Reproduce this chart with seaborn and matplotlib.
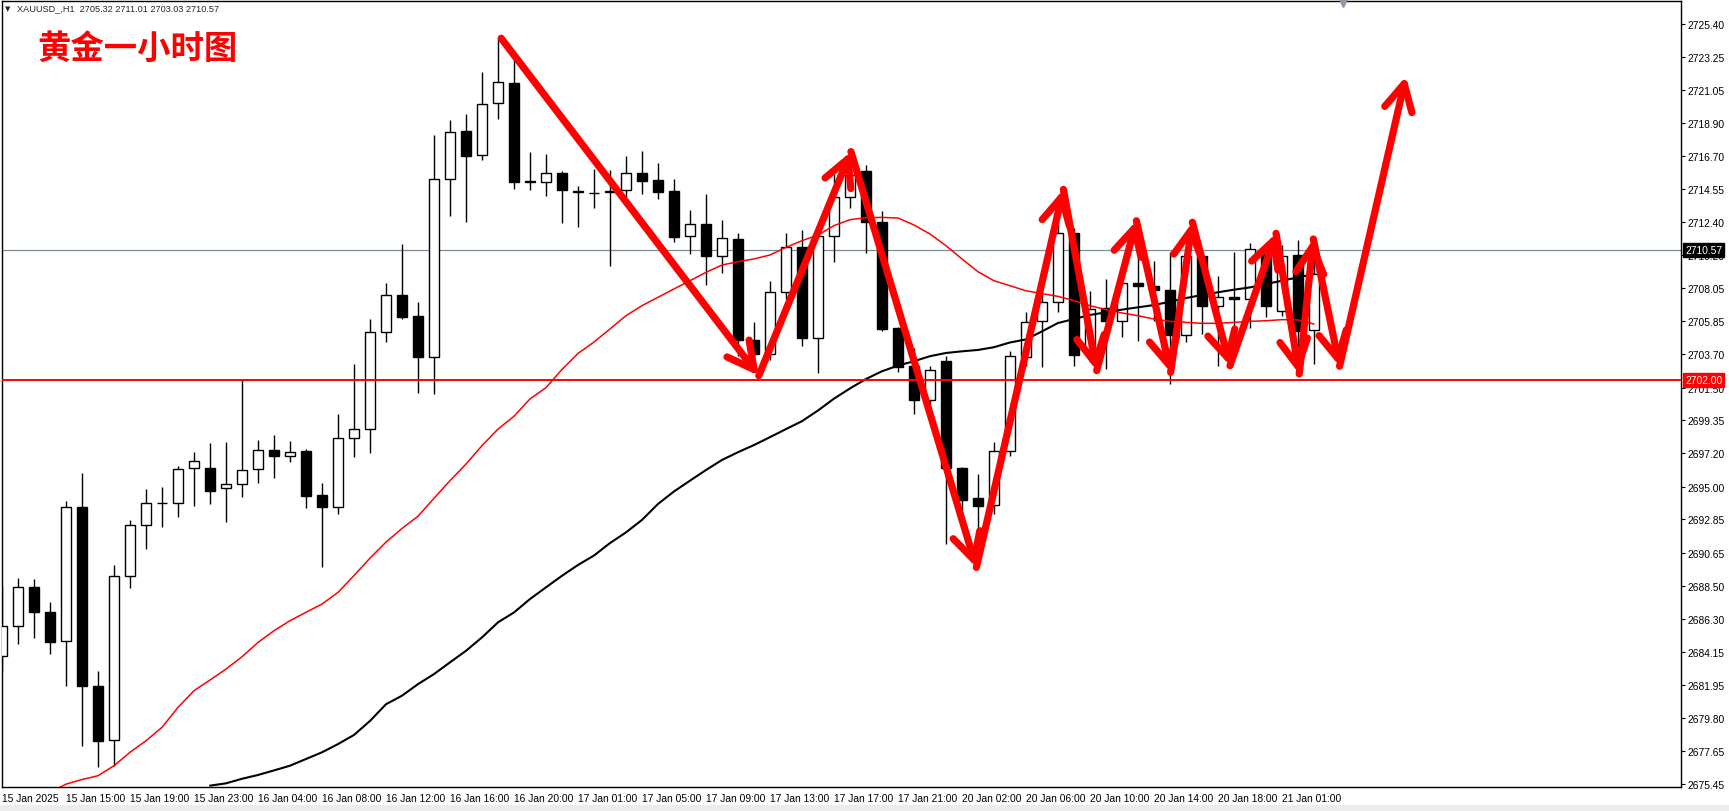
import numpy as np
import matplotlib
matplotlib.use('Agg')
import matplotlib.pyplot as plt
import matplotlib.transforms as mtransforms
from matplotlib.patches import Rectangle
import seaborn as sns

# Hourly XAUUSD candles, one per bar
opens = [2683.87, 2685.82, 2688.38, 2686.74, 2684.83, 2693.64, 2681.87, 2678.35, 2689.10, 2692.48,
         2693.90, 2693.90, 2696.20, 2696.20, 2694.88, 2695.15, 2696.13, 2697.40, 2696.99, 2697.34,
         2694.45, 2693.64, 2698.17, 2698.78, 2705.14, 2707.59, 2706.19, 2703.50, 2715.19, 2718.35,
         2716.79, 2720.19, 2721.50, 2715.10, 2715.00, 2715.61, 2714.40, 2714.29, 2714.35, 2714.47,
         2715.61, 2715.15, 2714.43, 2711.45, 2712.26, 2710.18, 2711.27, 2704.63, 2703.69, 2707.77,
         2710.75, 2704.74, 2711.45, 2714.01, 2715.74, 2712.39, 2705.42, 2702.92, 2700.67, 2703.25,
         2696.22, 2694.25, 2693.79, 2697.36, 2703.49, 2705.86, 2707.15, 2711.67, 2703.80, 2706.74,
         2705.86, 2708.36, 2708.16, 2707.92, 2704.98, 2710.15, 2706.85, 2707.44, 2707.33, 2710.29,
         2706.52, 2710.22, 2705.32]
highs = [2688.49, 2688.99, 2688.93, 2687.42, 2694.05, 2695.87, 2682.86, 2689.85, 2692.80, 2694.84,
         2694.97, 2696.33, 2697.29, 2697.86, 2697.93, 2702.10, 2698.06, 2698.39, 2698.00, 2697.47,
         2695.21, 2699.77, 2703.06, 2706.01, 2708.38, 2710.94, 2707.11, 2718.10, 2719.09, 2719.49,
         2722.27, 2724.48, 2723.03, 2716.97, 2716.86, 2715.72, 2714.73, 2715.87, 2715.80, 2716.73,
         2717.05, 2716.27, 2715.21, 2713.18, 2714.23, 2712.52, 2711.64, 2705.84, 2708.49, 2711.64,
         2711.86, 2712.00, 2715.54, 2716.75, 2716.15, 2713.11, 2705.50, 2704.09, 2702.90, 2703.60,
         2696.30, 2695.83, 2697.91, 2703.89, 2706.45, 2708.00, 2712.20, 2712.00, 2707.83, 2708.64,
         2709.20, 2710.83, 2709.85, 2710.39, 2710.50, 2710.50, 2708.82, 2710.39, 2711.01, 2710.80,
         2710.88, 2711.23, 2711.01]
lows = [2682.90, 2684.66, 2685.07, 2683.98, 2681.87, 2677.97, 2676.59, 2676.66, 2688.31, 2690.92,
        2692.37, 2693.02, 2693.75, 2693.86, 2692.69, 2694.34, 2695.26, 2695.56, 2696.64, 2693.61,
        2689.74, 2693.20, 2696.97, 2697.23, 2704.48, 2706.01, 2701.15, 2701.08, 2712.80, 2712.41,
        2716.48, 2719.18, 2714.56, 2714.51, 2714.12, 2712.34, 2712.08, 2713.31, 2709.47, 2714.01,
        2714.25, 2713.90, 2711.05, 2710.31, 2708.27, 2709.01, 2703.60, 2703.30, 2703.34, 2707.30,
        2704.26, 2702.44, 2709.78, 2713.29, 2710.35, 2705.25, 2702.55, 2699.77, 2700.20, 2691.23,
        2693.09, 2690.60, 2693.20, 2697.00, 2702.90, 2702.84, 2706.45, 2702.90, 2703.20, 2702.73,
        2704.80, 2704.59, 2705.90, 2701.74, 2704.50, 2705.03, 2702.95, 2705.40, 2705.40, 2706.12,
        2706.19, 2704.15, 2703.03]
closes = [2685.82, 2688.38, 2686.78, 2684.76, 2693.64, 2681.87, 2678.26, 2689.10, 2692.48, 2693.90,
          2693.94, 2696.16, 2696.66, 2694.73, 2695.15, 2696.09, 2697.40, 2697.03, 2697.25, 2694.40,
          2693.68, 2698.17, 2698.76, 2705.16, 2707.59, 2706.12, 2703.50, 2715.19, 2718.28, 2716.71,
          2720.12, 2721.57, 2715.04, 2715.04, 2715.61, 2714.51, 2714.34, 2714.31, 2714.40, 2715.59,
          2715.10, 2714.38, 2711.42, 2712.23, 2710.18, 2711.34, 2704.66, 2703.69, 2707.77, 2710.72,
          2704.74, 2711.45, 2714.01, 2715.50, 2712.37, 2705.36, 2702.84, 2700.71, 2702.66, 2696.20,
          2694.14, 2693.70, 2697.36, 2703.56, 2705.84, 2707.11, 2711.67, 2703.67, 2706.70, 2705.86,
          2708.36, 2708.16, 2707.90, 2704.98, 2710.13, 2706.85, 2707.44, 2707.35, 2710.59, 2706.85,
          2710.13, 2705.25, 2708.97]

nan = np.nan
# moving averages (red = fast, black = slow)
red_ma = [nan, nan, nan, 2674.9, 2675.45, 2675.75, 2676.0, 2676.66, 2677.54, 2678.30,
          2679.18, 2680.49, 2681.59, 2682.29, 2683.01, 2683.82, 2684.76, 2685.53, 2686.19, 2686.74,
          2687.28, 2688.05, 2689.15, 2690.30, 2691.35, 2692.25, 2693.05, 2694.23, 2695.39, 2696.48,
          2697.69, 2698.78, 2699.62, 2700.76, 2701.50, 2702.70, 2703.75, 2704.50, 2705.36, 2706.23,
          2706.89, 2707.44, 2707.99, 2708.53, 2709.08, 2709.56, 2709.78, 2709.96, 2710.22, 2710.72,
          2711.16, 2711.53, 2712.15, 2712.54, 2712.67, 2712.69, 2712.65, 2712.19, 2711.60, 2710.83,
          2709.96, 2709.12, 2708.53, 2708.20, 2707.87, 2707.68, 2707.50, 2707.22, 2706.89, 2706.63,
          2706.41, 2706.23, 2706.01, 2705.86, 2705.79, 2705.73, 2705.73, 2705.79, 2705.86, 2705.90,
          2705.97, 2705.95, 2705.68]
black_ma = [nan, nan, nan, nan, nan, nan, nan, nan, nan, nan,
            nan, nan, nan, 2675.35, 2675.5, 2675.8, 2676.05, 2676.35, 2676.66, 2677.10,
            2677.54, 2678.08, 2678.68, 2679.60, 2680.70, 2681.26, 2682.02, 2682.68, 2683.45, 2684.21,
            2685.09, 2686.08, 2686.73, 2687.61, 2688.38, 2689.14, 2689.85, 2690.47, 2691.29, 2691.99,
            2692.81, 2693.86, 2694.68, 2695.39, 2696.09, 2696.75, 2697.26, 2697.73, 2698.25, 2698.78,
            2699.30, 2700.00, 2700.78, 2701.45, 2702.07, 2702.58, 2702.95, 2703.24, 2703.57, 2703.78,
            2703.89, 2703.98, 2704.16, 2704.47, 2704.67, 2705.2, 2705.75, 2706.01, 2706.28, 2706.45,
            2706.63, 2706.78, 2706.93, 2707.15, 2707.39, 2707.59, 2707.77, 2707.94, 2708.09, 2708.31,
            2708.53, 2708.75, 2708.97]

# hand-drawn zigzag arrows (bar position, price)
arrow_bars = [31.2, 47.3, 53.06, 60.9, 66.34, 68.42, 70.9, 73.04, 74.4, 76.75, 79.63, 81.08, 81.96, 83.6, 87.75]
arrow_prices = [2724.46, 2702.29, 2717.01, 2689.69, 2714.53, 2702.62, 2712.47, 2702.51, 2712.37, 2702.95,
                2711.64, 2702.40, 2711.27, 2702.91, 2721.97]

bid_price = 2710.57
support_price = 2702.00

x_tick_bars = list(range(0, 81, 4))
x_tick_labels = ['15 Jan 2025', '15 Jan 15:00', '15 Jan 19:00', '15 Jan 23:00', '16 Jan 04:00',
                 '16 Jan 08:00', '16 Jan 12:00', '16 Jan 16:00', '16 Jan 20:00', '17 Jan 01:00',
                 '17 Jan 05:00', '17 Jan 09:00', '17 Jan 13:00', '17 Jan 17:00', '17 Jan 21:00',
                 '20 Jan 02:00', '20 Jan 06:00', '20 Jan 10:00', '20 Jan 14:00', '20 Jan 18:00',
                 '21 Jan 01:00']
y_tick_values = [2725.40, 2723.25, 2721.05, 2718.90, 2716.70, 2714.55, 2712.40, 2710.20, 2708.05,
                 2705.85, 2703.70, 2701.50, 2699.35, 2697.20, 2695.00, 2692.85, 2690.65, 2688.50,
                 2686.30, 2684.15, 2681.95, 2679.80, 2677.65, 2675.45]

header = 'XAUUSD_,H1  2705.32 2711.01 2703.03 2710.57'
title = '黄金一小时图'

# ---- plotting ----
sns.set_theme(style='white')
plt.rcParams['font.family'] = ['Liberation Sans', 'DejaVu Sans']

W, H = 1729, 812
fig = plt.figure(figsize=(W / 100, H / 100), dpi=100)
ax = fig.add_axes([2 / W, 1 - 788 / H, (1681 - 2) / W, (788 - 2) / H])

o = np.array(opens)
h = np.array(highs)
l = np.array(lows)
c = np.array(closes)
bars = np.arange(len(o))
up = c >= o
body_lo = np.minimum(o, c)
body_h = np.abs(c - o)

ax.axhline(bid_price, color='#7d8b99', lw=0.9, zorder=1)
ax.vlines(bars, l, h, color='black', lw=1, zorder=2)
ax.bar(bars[up], body_h[up], bottom=body_lo[up], width=0.6, color='white',
       edgecolor='black', linewidth=1, zorder=3)
ax.bar(bars[~up], body_h[~up], bottom=body_lo[~up], width=0.6, color='black',
       edgecolor='black', linewidth=1, zorder=3)

sns.lineplot(x=bars, y=red_ma, ax=ax, color='red', lw=1.1, zorder=4)
sns.lineplot(x=bars, y=black_ma, ax=ax, color='black', lw=1.5, zorder=4)

ax.axhline(support_price, color='red', lw=1.4, zorder=5)

for i in range(len(arrow_bars) - 1):
    ax.annotate('', xy=(arrow_bars[i + 1], arrow_prices[i + 1]),
                xytext=(arrow_bars[i], arrow_prices[i]),
                arrowprops=dict(arrowstyle='->,head_length=1.9,head_width=1.0',
                                color='red', lw=5.2, shrinkA=0, shrinkB=0,
                                mutation_scale=10),
                zorder=6, annotation_clip=False)

ax.set_xlim(0, 104.94)
ax.set_ylim(2675.26, 2726.91)

ax.set_xticks(x_tick_bars)
ax.set_xticklabels(x_tick_labels, ha='left')
offset = mtransforms.ScaledTranslation(2 / 100, 0, fig.dpi_scale_trans)
for lab in ax.get_xticklabels():
    lab.set_transform(lab.get_transform() + offset)
ax.yaxis.tick_right()
ax.set_yticks(y_tick_values)
ax.set_yticklabels([f'{v:.2f}' for v in y_tick_values])
ax.tick_params(axis='both', direction='out', length=3, width=0.8, color='black',
               labelsize=7.4, labelcolor='black', pad=2)
ax.tick_params(axis='x', pad=1.5)
ax.set_xlabel('')
ax.set_ylabel('')
for sp in ax.spines.values():
    sp.set_color('black')
    sp.set_linewidth(1)

# price tags on the right scale
ax.annotate(f'{bid_price:.2f}', xy=(1, bid_price), xycoords=ax.get_yaxis_transform(),
            xytext=(3, 0), textcoords='offset points', ha='left', va='center',
            color='white', fontsize=7.4,
            bbox=dict(boxstyle='square,pad=0.2', fc='black', ec='black'),
            annotation_clip=False, zorder=10)
ax.annotate(f'{support_price:.2f}', xy=(1, support_price), xycoords=ax.get_yaxis_transform(),
            xytext=(3, 0), textcoords='offset points', ha='left', va='center',
            color='white', fontsize=7.4,
            bbox=dict(boxstyle='square,pad=0.2', fc='red', ec='red'),
            annotation_clip=False, zorder=10)

# chart shift marker at the top
ax.plot([83.8], [2726.75], marker='v', ms=6, color='#8c9aa8', clip_on=False, zorder=10)

fig.text(5 / W, 1 - 9 / H, '▼', fontsize=5, va='center', family=['DejaVu Sans'])
fig.text(17 / W, 1 - 9 / H, header, fontsize=6.6, va='center')
fig.text(37 / W, 1 - 49 / H, title, color='red', fontsize=24, fontweight='bold',
         va='center', family=['Noto Sans CJK SC', 'DejaVu Sans'])

fig.add_artist(Rectangle((0, 0), 1, 6 / H, transform=fig.transFigure,
                         facecolor='#ececec', edgecolor='none'))

fig.savefig('out.png', dpi=100)
